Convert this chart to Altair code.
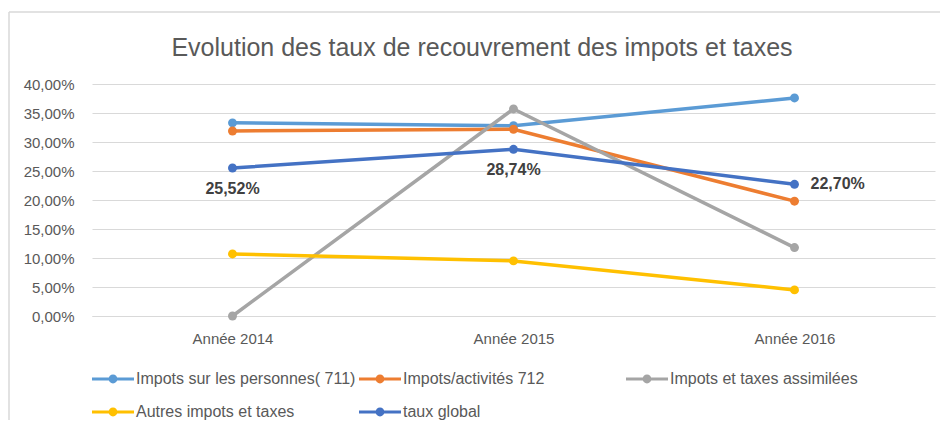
import altair as alt
import pandas as pd

categories = ["Année 2014", "Année 2015", "Année 2016"]
series_names = [
    "Impots sur les personnes( 711)",
    "Impots/activités 712",
    "Impots et taxes assimilées",
    "Autres impots et taxes",
    "taux global",
]
personnes = [0.333, 0.328, 0.376]
activites = [0.319, 0.322, 0.198]
assimilees = [0.0, 0.357, 0.118]
autres = [0.107, 0.095, 0.045]
taux_global = [0.2552, 0.2874, 0.2270]
colors = ["#5B9BD5", "#ED7D31", "#A5A5A5", "#FFC000", "#4472C4"]
y_ticks = [0.0, 0.05, 0.10, 0.15, 0.20, 0.25, 0.30, 0.35, 0.40]
title_text = "Evolution des taux de recouvrement des impots et taxes"

rows = []
for name, vals in zip(series_names, [personnes, activites, assimilees, autres, taux_global]):
    for c, v in zip(categories, vals):
        rows.append({"serie": name, "annee": c, "valeur": v})
df = pd.DataFrame(rows)

FONT = "Liberation Sans"
GREY_TXT = "#595959"
GRID = "#D9D9D9"

legend_symbol = (
    "M-1,-0.075L1,-0.075L1,0.075L-1,0.075Z "
    "M-0.21,0A0.21,0.21 0 1,1 0.21,0A0.21,0.21 0 1,1 -0.21,0Z"
)

x_enc = alt.X(
    "annee:N",
    sort=categories,
    scale=alt.Scale(padding=0.5),
    axis=alt.Axis(
        title=None, labelAngle=0, ticks=False, grid=False, domainColor=GRID,
        labelColor=GREY_TXT, labelFontSize=15, labelFont=FONT, labelPadding=15,
    ),
)
y_enc = alt.Y(
    "valeur:Q",
    scale=alt.Scale(domain=[0, 0.4], nice=False),
    axis=alt.Axis(
        title=None, values=y_ticks, ticks=False, domain=False, gridColor=GRID,
        labelColor=GREY_TXT, labelFontSize=15, labelFont=FONT, labelPadding=18,
        labelExpr="replace(format(datum.value, '.2%'), '.', ',')",
    ),
)
color_scale = alt.Scale(domain=series_names, range=colors)

base = alt.Chart(df)

lines = base.mark_line(strokeWidth=3.5).encode(
    x=x_enc, y=y_enc,
    color=alt.Color(
        "serie:N", scale=color_scale, sort=series_names,
        legend=alt.Legend(
            title=None, orient="bottom", offset=12, columns=3,
            gridAlign="all", symbolType=legend_symbol, symbolSize=1764,
            symbolStrokeWidth=0, symbolOpacity=1,
            labelFontSize=16, labelColor=GREY_TXT, labelFont=FONT,
            columnPadding=3, rowPadding=4, labelOffset=2, padding=0, labelLimit=400,
        ),
    ),
    detail="serie:N",
)

points = base.mark_point(filled=True, size=80, opacity=1).encode(
    x=x_enc, y=y_enc,
    fill=alt.Fill("serie:N", scale=color_scale, sort=series_names, legend=None),
)

lbl_base = base.transform_filter(alt.datum.serie == "taux global").transform_calculate(
    label="replace(format(datum.valeur, '.2%'), '.', ',')"
)
labels_below = lbl_base.transform_filter(alt.datum.annee != "Année 2016").mark_text(
    dy=21, fontSize=16, fontWeight="bold", color="#404040", font=FONT, baseline="middle"
).encode(x=x_enc, y=y_enc, text="label:N")
labels_right = lbl_base.transform_filter(alt.datum.annee == "Année 2016").mark_text(
    dx=16, align="left", fontSize=16, fontWeight="bold", color="#404040", font=FONT,
    baseline="middle",
).encode(x=x_enc, y=y_enc, text="label:N")

frame_df = pd.DataFrame({"k": [0]})
frame_left = alt.Chart(frame_df).mark_rule(color=GRID, strokeWidth=1.5).encode(
    x=alt.value(-83), y=alt.value(-72), y2=alt.value(336)
)
frame_top = alt.Chart(frame_df).mark_rule(color=GRID, strokeWidth=1.5).encode(
    x=alt.value(-83), x2=alt.value(848), y=alt.value(-72)
)
title_mark = alt.Chart(frame_df).mark_text(
    fontSize=25, font=FONT, color=GREY_TXT, align="center", baseline="alphabetic"
).encode(x=alt.value(390), y=alt.value(-28), text=alt.value(title_text))

chart = alt.layer(
    lines, points, labels_below, labels_right, frame_left, frame_top, title_mark
).properties(
    width=843, height=232,
    padding={"left": 0, "top": 3, "right": 0, "bottom": 0},
).configure_view(stroke=None)

chart.save("out.html", embed_options={"renderer": "svg", "actions": False})
